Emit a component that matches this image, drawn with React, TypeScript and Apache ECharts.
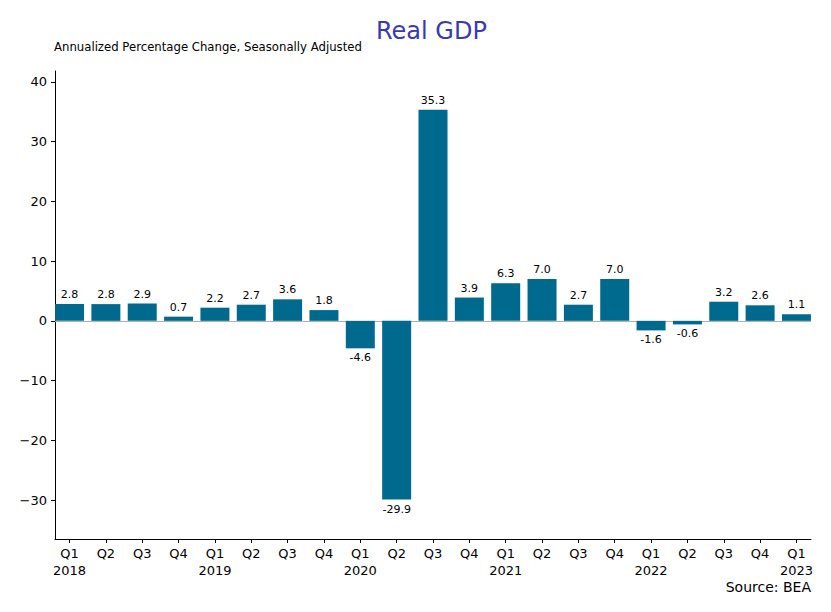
import React, { useEffect, useRef } from "react";
import * as echarts from "echarts";

const quarters = ["Q1","Q2","Q3","Q4","Q1","Q2","Q3","Q4","Q1","Q2","Q3","Q4","Q1","Q2","Q3","Q4","Q1","Q2","Q3","Q4","Q1"];
const years = ["2018","","","","2019","","","","2020","","","","2021","","","","2022","","","","2023"];
const gdpChange = [2.8,2.8,2.9,0.7,2.2,2.7,3.6,1.8,-4.6,-29.9,35.3,3.9,6.3,7.0,2.7,7.0,-1.6,-0.6,3.2,2.6,1.1];
const yTicks = [-30,-20,-10,0,10,20,30,40];

const FONT = "DejaVu Sans";

export default function App() {
  const ref = useRef<HTMLDivElement>(null);
  useEffect(() => {
    if (!ref.current) return;
    const chart = echarts.init(ref.current, undefined, { renderer: "svg" });
    const idx = gdpChange.map((_, i) => i);
    chart.setOption({
      animation: false,
      backgroundColor: "#ffffff",
      title: [
        {
          text: "Real GDP",
          left: 371,
          top: 14,
          textStyle: { fontFamily: FONT, fontSize: 24, fontWeight: "normal", color: "#3a3ab0" },
        },
        {
          text: "Annualized Percentage Change, Seasonally Adjusted",
          left: 49,
          top: 36,
          textStyle: { fontFamily: FONT, fontSize: 11.7, fontWeight: "normal", color: "#000" },
        },
        {
          text: "Source: BEA",
          right: 15,
          top: 575,
          textStyle: { fontFamily: FONT, fontSize: 14, fontWeight: "normal", color: "#000" },
        },
      ],
      grid: { left: 55, right: 20, top: 71, bottom: 73, containLabel: false },
      xAxis: {
        type: "value",
        min: -0.4,
        max: 20.4,
        splitLine: { show: false },
        axisLine: { show: true, onZero: false, lineStyle: { color: "#000", width: 1 } },
        axisTick: { show: true, length: 4, lineStyle: { color: "#000" }, customValues: idx },
        axisLabel: {
          show: true,
          customValues: idx,
          margin: 6,
          fontFamily: FONT,
          fontSize: 13,
          color: "#000",
          lineHeight: 17,
          formatter: (v: number) => {
            const i = Math.round(v);
            return years[i] ? quarters[i] + "\n" + years[i] : quarters[i];
          },
          verticalAlign: "top",
        },
      },
      yAxis: {
        type: "value",
        min: -36.5,
        max: 41.8,
        splitLine: { show: false },
        axisLine: { show: true, onZero: false, lineStyle: { color: "#000", width: 1 } },
        axisTick: { show: true, length: 4, lineStyle: { color: "#000" }, customValues: yTicks },
        axisLabel: {
          show: true,
          customValues: yTicks,
          margin: 8,
          fontFamily: FONT,
          fontSize: 13,
          color: "#000",
          formatter: (v: number) => (v < 0 ? "\u2212" + Math.abs(v) : String(v)),
        },
      },
      series: [
        {
          type: "bar",
          data: gdpChange.map((v, i) => ({
            value: [i, v],
            label: { position: v < 0 ? "bottom" : "top" },
          })),
          barWidth: 29,
          itemStyle: { color: "#006a8e" },
          label: {
            show: true,
            distance: 4,
            fontFamily: FONT,
            fontSize: 11,
            color: "#000",
            formatter: (p: any) => p.value[1].toFixed(1),
          },
          markLine: {
            silent: true,
            symbol: "none",
            label: { show: false },
            lineStyle: { color: "#b0b0b0", width: 1, type: "solid" },
            data: [{ yAxis: 0 }],
            z: 1,
          },
          z: 2,
        },
      ],
    });
    return () => chart.dispose();
  }, []);
  return <div ref={ref} style={{ width: 831, height: 612, position: "absolute", left: 0, top: 0 }} />;
}
